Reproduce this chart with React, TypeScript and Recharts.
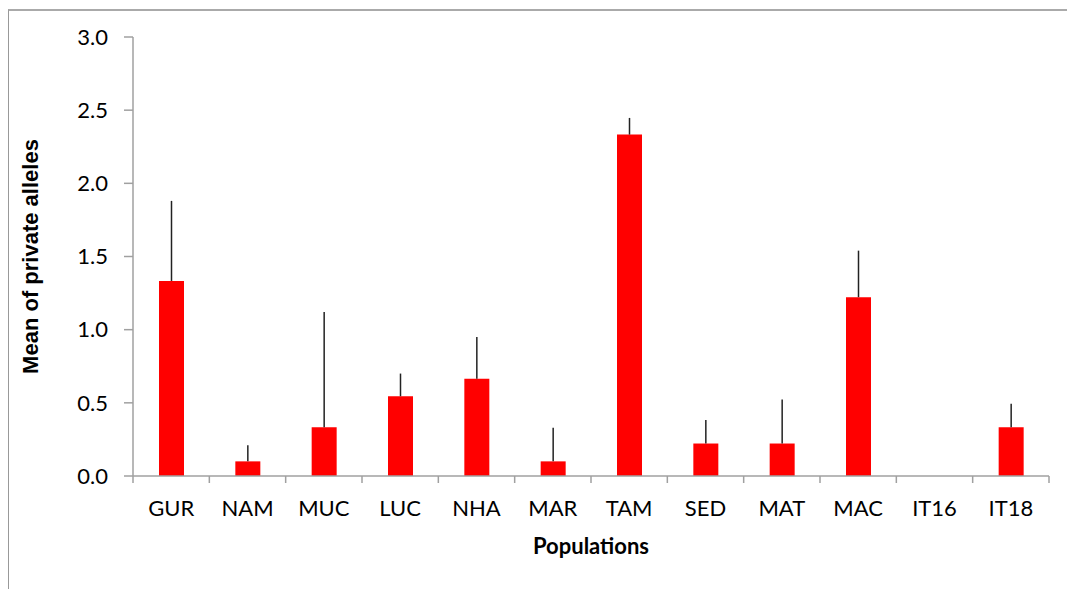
import React from 'react';
import { BarChart, Bar, XAxis, YAxis, ErrorBar } from 'recharts';

const categories = ['GUR', 'NAM', 'MUC', 'LUC', 'NHA', 'MAR', 'TAM', 'SED', 'MAT', 'MAC', 'IT16', 'IT18'];
const means = [1.333, 0.1, 0.333, 0.545, 0.665, 0.1, 2.333, 0.222, 0.222, 1.222, 0, 0.333];
const upperErrors = [0.547, 0.11, 0.787, 0.155, 0.285, 0.23, 0.114, 0.16, 0.3, 0.318, 0, 0.16];
const yTicks = [0, 0.5, 1.0, 1.5, 2.0, 2.5, 3.0];

const data = categories.map((name, i) => ({
  name,
  value: means[i],
  err: [0, upperErrors[i]],
}));

const FONT = 'Lato, "Open Sans", sans-serif';
const AXIS_GRAY = '#a0a0a0';

const YLabel = (props: any) => {
  const vb = props.viewBox || {};
  const cx = 22;
  const cy = vb.y + vb.height / 2;
  return (
    <text
      x={cx}
      y={cy}
      transform={`rotate(-90, ${cx}, ${cy})`}
      textAnchor="middle"
      dominantBaseline="central"
      fontFamily='"Liberation Sans", Arial, sans-serif'
      fontWeight="bold"
      fontSize={22}
      fill="#000"
    >
      Mean of private alleles
    </text>
  );
};

const XLabel = (props: any) => {
  const vb = props.viewBox || {};
  const cx = vb.x + vb.width / 2;
  const cy = 537;
  return (
    <text
      x={cx}
      y={cy}
      textAnchor="middle"
      dominantBaseline="central"
      fontFamily={FONT}
      fontWeight="bold"
      fontSize={22}
      fill="#000"
    >
      Populations
    </text>
  );
};

const CategoryTick = (props: any) => {
  const { x, y, payload, index, visibleTicksCount } = props;
  const half = payload && typeof payload.offset === 'number' ? payload.offset : 0;
  const last = index === (visibleTicksCount ?? categories.length) - 1;
  return (
    <g>
      <line x1={x - half} x2={x - half} y1={y} y2={y + 7} stroke={AXIS_GRAY} strokeWidth={1.5} />
      {last && (
        <line x1={x + half} x2={x + half} y1={y} y2={y + 7} stroke={AXIS_GRAY} strokeWidth={1.5} />
      )}
      <text
        x={x}
        y={y + 24}
        dy="0.72em"
        textAnchor="middle"
        fontFamily={FONT}
        fontSize={22}
        fill="#000"
      >
        {payload.value}
      </text>
    </g>
  );
};

export default function App() {
  return (
    <div
      style={{
        position: 'fixed',
        left: 0,
        top: 0,
        width: 1067,
        height: 589,
        overflow: 'hidden',
        background: '#fff',
      }}
    >
      <div
        style={{
          position: 'absolute',
          left: 8,
          top: 9,
          width: 1200,
          height: 700,
          borderTop: '2px solid #aaaaaa',
          borderLeft: '1px solid #999999',
        }}
      />
      <div style={{ position: 'absolute', left: 8, top: 8 }}>
        <BarChart
          width={1059}
          height={581}
          data={data}
          margin={{ top: 29, right: 18, left: 0, bottom: 0 }}
        >
          <XAxis
            dataKey="name"
            height={113}
            tickLine={false}
            tickSize={0}
            tickMargin={0}
            axisLine={{ stroke: AXIS_GRAY, strokeWidth: 1.5 }}
            interval={0}
            tick={CategoryTick}
            label={<XLabel />}
          />
          <YAxis
            width={125}
            domain={[0, 3]}
            ticks={yTicks}
            tickFormatter={(v: number) => v.toFixed(1)}
            tickSize={9}
            tickMargin={16}
            interval={0}
            tick={{ fill: '#000', fontSize: 22, fontFamily: FONT }}
            tickLine={{ stroke: AXIS_GRAY, strokeWidth: 1.5 }}
            axisLine={{ stroke: AXIS_GRAY, strokeWidth: 1.5 }}
            label={<YLabel />}
          />
          <Bar dataKey="value" fill="#ff0000" barSize={25} isAnimationActive={false}>
            <ErrorBar dataKey="err" width={0} stroke="#222" strokeWidth={1.5} direction="y" />
          </Bar>
        </BarChart>
      </div>
    </div>
  );
}
